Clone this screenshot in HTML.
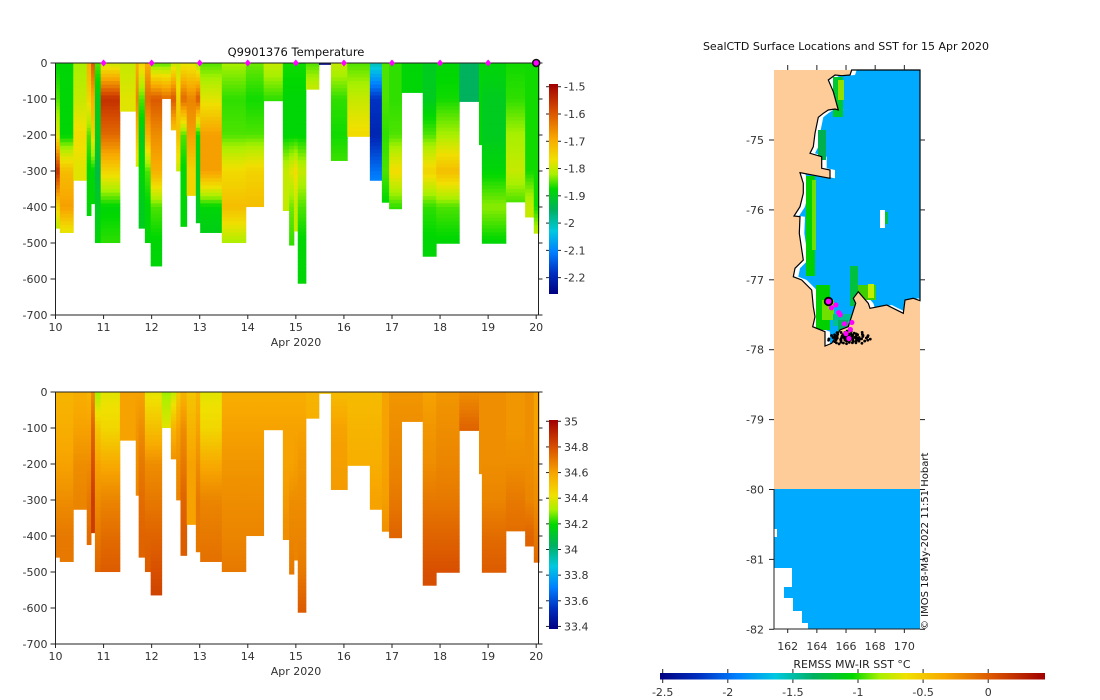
<!DOCTYPE html>
<html><head><meta charset="utf-8">
<style>
body{margin:0;background:#fff;}
svg{display:block;font-family:"DejaVu Sans","Liberation Sans",sans-serif;}
</style></head>
<body>
<svg id="fig" width="1100" height="700" viewBox="0 0 1100 700">
<defs>
<linearGradient id="cbv" x1="0" y1="1" x2="0" y2="0">
<stop offset="0" stop-color="#000080"/><stop offset="0.1" stop-color="#0030c0"/><stop offset="0.2" stop-color="#0080ff"/><stop offset="0.3" stop-color="#00c8e0"/><stop offset="0.4" stop-color="#00b060"/><stop offset="0.5" stop-color="#00d800"/><stop offset="0.57" stop-color="#a8f000"/><stop offset="0.64" stop-color="#f0e000"/><stop offset="0.74" stop-color="#f8a800"/><stop offset="0.87" stop-color="#d85000"/><stop offset="1" stop-color="#a00000"/>
</linearGradient>
<linearGradient id="cbh" x1="0" y1="0" x2="1" y2="0">
<stop offset="0" stop-color="#000080"/><stop offset="0.1" stop-color="#0030c0"/><stop offset="0.2" stop-color="#0080ff"/><stop offset="0.3" stop-color="#00c8e0"/><stop offset="0.4" stop-color="#00b060"/><stop offset="0.5" stop-color="#00d800"/><stop offset="0.57" stop-color="#a8f000"/><stop offset="0.64" stop-color="#f0e000"/><stop offset="0.74" stop-color="#f8a800"/><stop offset="0.87" stop-color="#d85000"/><stop offset="1" stop-color="#a00000"/>
</linearGradient>
</defs>
<g id="tempPanel"></g>
<g id="salPanel"></g>
<g id="mapPanel"></g>
</svg>
<script>
// ---------- data ----------
const startDays=[10.00,10.09,10.37,10.65,10.74,10.82,10.94,11.34,11.67,11.73,11.86,11.98,12.21,12.40,12.51,12.60,12.73,12.92,13.01,13.46,13.96,14.33,14.73,14.86,14.96,15.04,15.21,15.48,15.73,16.07,16.54,16.79,16.94,17.20,17.64,17.92,18.40,18.81,18.87,19.37,19.77,19.95];
const endDays=[10.09,10.37,10.65,10.74,10.82,10.94,11.34,11.73,11.73,11.86,11.98,12.21,12.40,12.51,12.60,12.73,12.92,13.01,13.46,13.96,14.33,14.73,14.86,14.96,15.04,15.21,15.48,15.73,16.07,16.54,16.79,16.94,17.20,17.64,17.92,18.40,18.81,18.87,19.37,19.77,19.95,20.06];
const maxDepths=[459,471,326,424,391,499,499,134,287,459,499,564,99,186,300,454,368,444,471,499,399,105,410,506,467,612,73,4,271,204,326,387,405,82,537,501,107,227,501,386,428,473];
// values at depth 0,100,200,...
const tempProfiles=[
[-1.88,-1.85,-1.78,-1.55,-1.75,-1.85],[-1.88,-1.88,-1.88,-1.72,-1.68,-1.82],[-1.82,-1.8,-1.76,-1.78],[-1.7,-1.75,-1.85,-1.88,-1.88],[-1.6,-1.7,-1.75,-1.88],
[-1.85,-1.9,-1.9,-1.93,-1.9,-1.88],[-1.8,-1.55,-1.62,-1.75,-1.88,-1.86],[-1.8,-1.78],[-1.7,-1.65,-1.72,-1.8],[-1.75,-1.85,-1.9,-1.88,-1.9],
[-1.7,-1.62,-1.7,-1.85,-1.88,-1.88],[-1.85,-1.6,-1.66,-1.7,-1.85,-1.88,-1.88],[-1.85,-1.62],[-1.8,-1.6,-1.75],[-1.8,-1.75,-1.72,-1.8],
[-1.78,-1.62,-1.85,-1.88,-1.88],[-1.78,-1.65,-1.68,-1.75],[-1.83,-1.6,-1.88,-1.9,-1.9],[-1.85,-1.78,-1.68,-1.68,-1.88,-1.9],[-1.82,-1.86,-1.85,-1.76,-1.72,-1.82],
[-1.84,-1.87,-1.85,-1.75,-1.72],[-1.8,-1.86],[-1.87,-1.88,-1.88,-1.8,-1.8],[-1.87,-1.88,-1.88,-1.78,-1.84,-1.86],[-1.87,-1.88,-1.88,-1.76,-1.8],
[-1.87,-1.88,-1.88,-1.8,-1.85,-1.88,-1.88],[-1.85,-1.78],[-2.25,-2.25],[-1.8,-1.86,-1.87,-1.85],[-1.85,-1.8,-1.76],
[-2.0,-2.18,-2.2,-2.12,-2.06],[-1.85,-1.85,-1.86,-1.85,-1.88],[-1.86,-1.86,-1.85,-1.76,-1.86],[-1.88,-1.88],[-1.9,-1.9,-1.85,-1.75,-1.86,-1.88],
[-1.88,-1.87,-1.82,-1.72,-1.85,-1.88],[-1.95,-1.95],[-1.88,-1.88,-1.88],[-1.88,-1.9,-1.9,-1.88,-1.83,-1.88],[-1.87,-1.86,-1.82,-1.8,-1.86],
[-1.87,-1.87,-1.87,-1.87,-1.8],[-1.87,-1.87,-1.87,-1.87,-1.87,-1.78]];
const salProfiles=[
[34.55,34.57,34.6,34.65,34.7],[34.55,34.57,34.6,34.65,34.7],[34.57,34.6,34.65,34.67],[34.55,34.6,34.65,34.7,34.73],[34.65,34.75,34.8,34.85],
[34.3,34.5,34.6,34.65,34.7,34.75],[34.4,34.45,34.58,34.67,34.73,34.77],[34.6,34.6],[34.6,34.63,34.65,34.67],[34.6,34.65,34.7,34.73,34.75],
[34.4,34.52,34.65,34.7,34.75,34.77],[34.4,34.52,34.65,34.7,34.75,34.8,34.85],[34.3,34.4],[34.35,34.55,34.65],[34.48,34.6,34.65,34.67],
[34.55,34.65,34.7,34.75,34.77],[34.5,34.55,34.6,34.6],[34.55,34.6,34.65,34.7,34.7],[34.4,34.45,34.58,34.67,34.7,34.73],[34.57,34.6,34.63,34.65,34.67,34.7],
[34.57,34.6,34.63,34.65,34.67],[34.57,34.6],[34.57,34.6,34.6,34.62,34.65],[34.57,34.6,34.6,34.65,34.67,34.7],[34.57,34.6,34.61,34.65,34.67],
[34.57,34.6,34.63,34.65,34.67,34.7,34.77],[34.55,34.57],[34.5,34.5],[34.53,34.6,34.61,34.62],[34.53,34.55,34.57],
[34.53,34.55,34.57,34.6],[34.6,34.6,34.6,34.61,34.65],[34.63,34.65,34.67,34.7,34.75],[34.63,34.65],[34.6,34.63,34.65,34.7,34.75,34.8],
[34.63,34.65,34.67,34.7,34.75,34.8],[34.65,34.75],[34.65,34.65,34.65],[34.65,34.65,34.65,34.67,34.73,34.77],[34.63,34.63,34.65,34.7,34.73],
[34.65,34.65,34.65,34.67,34.75],[34.6,34.6,34.63,34.65,34.7,34.75]];
const xTicks=[10,11,12,13,14,15,16,17,18,19,20];
const yTicks=[0,-100,-200,-300,-400,-500,-600,-700];
const tempCbTicks=[-1.5,-1.6,-1.7,-1.8,-1.9,-2,-2.1,-2.2];
const salCbTicks=[35,34.8,34.6,34.4,34.2,34,33.8,33.6,33.4];
const markerDays=[11,12,13,14,15,16,17,18,19];
const latTicks=[-75,-76,-77,-78,-79,-80,-81,-82];
const lonTicks=[162,164,166,168,170];
const sstCbTicks=[-2.5,-2,-1.5,-1,-0.5,0];
const sealLon=[164.8,165.0,165.3,165.5,165.6,165.9,166.0,166.3,166.4,166.2];
const sealLat=[-77.31,-77.4,-77.36,-77.47,-77.5,-77.63,-77.77,-77.71,-77.61,-77.84];

// ---------- helpers ----------
const NS='http://www.w3.org/2000/svg';
function mk(tag,attrs,parent){const e=document.createElementNS(NS,tag);for(const k in attrs)e.setAttribute(k,attrs[k]);parent.appendChild(e);return e;}
const stops=[[0,[0,0,128]],[0.1,[0,48,192]],[0.2,[0,128,255]],[0.3,[0,200,224]],[0.4,[0,176,96]],[0.5,[0,216,0]],[0.57,[168,240,0]],[0.64,[240,224,0]],[0.74,[248,168,0]],[0.87,[216,80,0]],[1,[160,0,0]]];
function cmap(t){t=Math.max(0,Math.min(1,t));for(let i=1;i<stops.length;i++){if(t<=stops[i][0]){const a=stops[i-1],b=stops[i];const f=(t-a[0])/(b[0]-a[0]);const c=a[1].map((v,j)=>Math.round(v+(b[1][j]-v)*f));return `rgb(${c[0]},${c[1]},${c[2]})`;}}return 'rgb(160,0,0)';}
function interp(p,d){const i=Math.min(Math.floor(d/100),p.length-1);if(i>=p.length-1)return p[p.length-1];const f=(d-i*100)/100;return p[i]+(p[i+1]-p[i])*f;}

function panel(g,top,profiles,vmin,vmax,cbTicks,cbTop,cbBot,cbFmt,withTitle){
  const x0=55.5,x1=536.2,xr=538.5,y0=top,y1=top+252;
  const xS=d=>x0+(d-10)*(x1-x0)/10;
  const yS=v=>y0+(-v)*(y1-y0)/700;
  const cells=mk('g',{},g);
  
  for(let c=0;c<startDays.length;c++){
    const xa=xS(startDays[c]),xb=xS(endDays[c]);
    for(let d=0;d<maxDepths[c];d+=10){
      const h=Math.min(10,maxDepths[c]-d);
      const v=interp(profiles[c],d+h/2);
      const r=mk('rect',{x:xa,y:yS(-d),width:xb-xa+0.4,height:(y1-y0)*h/700+0.4,fill:cmap((v-vmin)/(vmax-vmin))},cells);
      
      
    }
  }
  const ax=mk('g',{stroke:'#222','stroke-width':1,fill:'none'},g);
  
  mk('line',{x1:x0,y1:y0,x2:xr,y2:y0},ax);
  mk('line',{x1:x0,y1:y0,x2:x0,y2:y1},ax);
  mk('line',{x1:x0,y1:y1,x2:xr,y2:y1},ax);
  mk('line',{x1:xr,y1:y0,x2:xr,y2:y1},ax);
  const tx=mk('g',{'font-size':11,fill:'#333'},g);
  
  xTicks.forEach(t=>{mk('line',{x1:xS(t),y1:y1,x2:xS(t),y2:y1+4},ax);
    const e=mk('text',{x:xS(t),y:y1+16,'text-anchor':'middle'},tx);e.textContent=t;
    });
  yTicks.forEach(t=>{mk('line',{x1:x0-5,y1:yS(t),x2:x0,y2:yS(t)},ax);mk('line',{x1:xr,y1:yS(t),x2:xr+4,y2:yS(t)},ax);
    const e=mk('text',{x:x0-8,y:yS(t)+4,'text-anchor':'end'},tx);e.textContent=t;
    });
  const xl=mk('text',{x:296,y:y1+31,'text-anchor':'middle'},tx);xl.textContent='Apr 2020';
  
  const cbS=v=>cbBot-(v-vmin)*(cbBot-cbTop)/(vmax-vmin);
  const cb=mk('rect',{x:549,y:cbTop,width:9,height:cbBot-cbTop,fill:'url(#cbv)'},g);
  
  
  cbTicks.forEach(t=>{mk('line',{x1:558,y1:cbS(t),x2:561,y2:cbS(t)},ax);mk('line',{x1:546,y1:cbS(t),x2:549,y2:cbS(t)},ax);
    const e=mk('text',{x:564,y:cbS(t)+4},tx);e.textContent=cbFmt(t);
    });
  if(withTitle){
    const tt=mk('text',{x:296,y:y0-7,'text-anchor':'middle','font-size':11.5,fill:'#111'},g);tt.textContent='Q9901376  Temperature';
    
    markerDays.forEach(d=>{const m=mk('path',{d:`M${xS(d)},${y0-3.5} l3,3.5 l-3,3.5 l-3,-3.5z`,fill:'#ff00ff'},g);
      
      });
    const c=mk('circle',{cx:xS(20),cy:y0,r:3.5,fill:'#ff00ff',stroke:'#111','stroke-width':1.6},g);
    
    
  }
}
panel(document.getElementById('tempPanel'),63,tempProfiles,-2.26,-1.49,tempCbTicks,84,294,t=>String(t),true);
panel(document.getElementById('salPanel'),392,salProfiles,33.38,35.01,salCbTicks,420,629,t=>String(t),false);

// ---------- map ----------
const mg=document.getElementById('mapPanel');
const lonS=l=>787.7+(l-162)*14.58;
const latS=l=>140-(l+75)*69.9;
const L=774,R=920,T=70,B=629;
mk('rect',{x:L,y:T,width:R-L,height:B-T,fill:'#fdcc99'},mg);
const coast=[[851.7,70],[850,75],[841.7,75.7],[835,75],[828.3,80],[833.3,91.7],[838.3,110],[835,109],[828.3,110],[823.3,113.3],[818.3,117.3],[815,133.3],[813.3,146.7],[810,153.3],[821.7,156.7],[821.7,168.3],[830,170],[830,178.3],[800,172.7],[803.3,183.3],[803.3,193.3],[800,206.7],[794,216],[800,216.7],[799.3,233.3],[803.3,260],[795,268.3],[793.3,276.7],[801.7,280],[811.7,290],[813.3,306.7],[815,316.7],[812.7,326.7],[825,331.7],[825,346],[831.7,343.3],[840,330],[848.3,326.7],[855.7,303.3],[853.3,298.3],[858.3,291.7],[868.3,303.3],[870,308.3],[886.7,305],[903.3,313.3],[905,300],[913.3,298.3],[920,300.7],[920,70]];
const cs=coast.map(p=>p.join(',')).join(' ');
const cp=mk('clipPath',{id:'seaclip'},mg);mk('polygon',{points:cs},cp);
const sea=mk('polygon',{points:cs,fill:'#ffffff'},mg);

const sg=mk('g',{'clip-path':'url(#seaclip)'},mg);
const blue=mk('polygon',{points:coast.map(p=>(p[0]+5)+','+p[1]).join(' '),fill:'#00aaff'},sg);

[[833,77,10,40,'#00c830'],[838,80,6,20,'#90e000'],[818,130,8,30,'#00b050'],[806,176,9,100,'#00d000'],[812,180,4,70,'#70e000'],[816,285,14,45,'#00d000'],[822,300,12,20,'#70e000'],[850,266,8,40,'#00c040'],[858,285,18,15,'#40d000'],[868,284,6,14,'#c0f000'],[833,314,18,12,'#00c090'],[838,320,10,20,'#00b060']].forEach(r=>{
  const e=mk('rect',{x:r[0],y:r[1],width:r[2],height:r[3],fill:r[4]},sg);
  });
mk('polygon',{points:cs,fill:'none',stroke:'#000','stroke-width':1.2},mg);
mk('rect',{x:880,y:210,width:5,height:18,fill:'#fff'},mg);
mk('rect',{x:885,y:212,width:3,height:12,fill:'#00c040'},mg);
const lowerBg=mk('rect',{x:774,y:489,width:146,height:140,fill:'#ffffff'},mg);

const lower=mk('polygon',{points:`774,489 920,489 920,629 808,629 808,623 802,623 802,611 793,611 793,598 784,598 784,587 792,587 792,568 774,568`,fill:'#00aaff'},mg);

mk('rect',{x:774,y:529,width:3,height:8,fill:'#fff'},mg);
const dots=mk('g',{fill:'#000'},mg);

for(let i=0;i<90;i++){const a=i*2.39,rr=1+(i%15)*0.9;mk('circle',{cx:lonS(166.2)+Math.cos(a)*rr*1.6,cy:latS(-77.83)+Math.sin(a)*rr*0.5,r:1.4},dots);}
sealLon.forEach((l,i)=>{const c=mk('circle',{cx:lonS(l),cy:latS(sealLat[i]),r:2.6,fill:'#ff00ff'},mg);
  
  });
const last=mk('circle',{cx:lonS(sealLon[0]),cy:latS(sealLat[0]),r:3.8,fill:'#ff00ff',stroke:'#000','stroke-width':1.8},mg);


const ma=mk('g',{stroke:'#222','stroke-width':1},mg);

mk('line',{x1:L,y1:489,x2:L,y2:B},ma);mk('line',{x1:L,y1:B,x2:R,y2:B},ma);
const mt=mk('g',{'font-size':11,fill:'#333'},mg);
lonTicks.forEach(l=>{mk('line',{x1:lonS(l),y1:T-5,x2:lonS(l),y2:T},ma);mk('line',{x1:lonS(l),y1:B,x2:lonS(l),y2:B+4},ma);
  const e=mk('text',{x:lonS(l),y:B+21,'text-anchor':'middle'},mt);e.textContent=l;
  });
latTicks.forEach(l=>{mk('line',{x1:L-5,y1:latS(l),x2:L,y2:latS(l)},ma);mk('line',{x1:R,y1:latS(l),x2:R+5,y2:latS(l)},ma);
  const e=mk('text',{x:L-10,y:latS(l)+4,'text-anchor':'end'},mt);e.textContent=l;
  });
const mtitle=mk('text',{x:846,y:50,'text-anchor':'middle','font-size':11,fill:'#111'},mg);mtitle.textContent='SealCTD Surface Locations and SST for 15 Apr 2020';

const cr=mk('text',{x:0,y:0,'font-size':10,fill:'#111',transform:'translate(928,630) rotate(-90)'},mg);cr.textContent='© IMOS 18-May-2022 11:51 Hobart';

const cbt=mk('text',{x:852,y:668,'text-anchor':'middle','font-size':11,fill:'#222'},mg);cbt.textContent='REMSS MW-IR SST °C';

const hcb=mk('rect',{x:660,y:673,width:385,height:6.5,fill:'url(#cbh)'},mg);


const sx=v=>662.7+(v+2.5)*130.2;
sstCbTicks.forEach(v=>{mk('line',{x1:sx(v),y1:679.5,x2:sx(v),y2:683},ma);mk('line',{x1:sx(v),y1:669,x2:sx(v),y2:673},ma);
  const e=mk('text',{x:sx(v),y:696,'text-anchor':'middle'},mt);e.textContent=v;
  });
</script>
</body></html>
